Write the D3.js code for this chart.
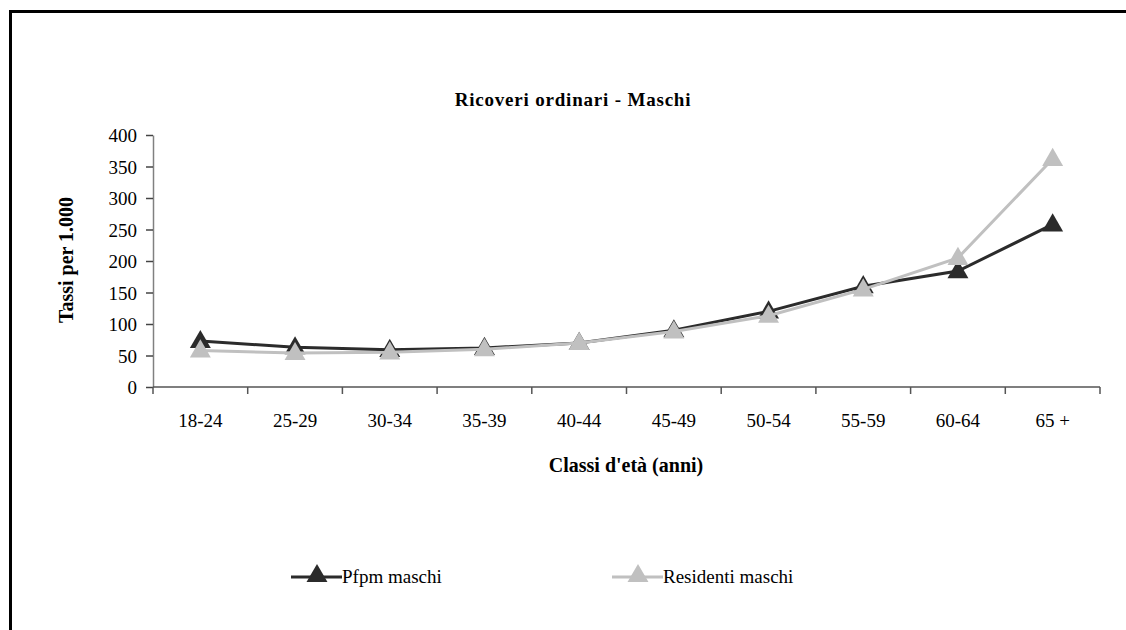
<!DOCTYPE html>
<html>
<head>
<meta charset="utf-8">
<script src="https://cdn.jsdelivr.net/npm/d3@7"></script>
<style>
  body { margin: 0; background: #fff; }
  svg text { font-family: "Liberation Serif", "Times New Roman", Times, "DejaVu Serif", serif; fill: #000; }
</style>
</head>
<body>
<svg width="1126" height="630"></svg>
<script>
var categories = ["18-24", "25-29", "30-34", "35-39", "40-44", "45-49", "50-54", "55-59", "60-64", "65 +"];
var pfpm = [73, 63, 59, 62, 70, 90, 120, 160, 184, 258];
var residenti = [58, 54, 55, 60, 70, 88, 113, 155, 205, 362];
var yTicks = [0, 50, 100, 150, 200, 250, 300, 350, 400];

var series = [
  { name: "Pfpm maschi", values: pfpm, color: "#2b2b2b" },
  { name: "Residenti maschi", values: residenti, color: "#c0c0c0" }
];

var serif = "'Liberation Serif', 'Times New Roman', Times, 'DejaVu Serif', serif";

var svg = d3.select("svg");

// frame: only top and left edges show
svg.append("path")
    .attr("d", "M10.5,630 L10.5,11.5 L1126,11.5")
    .attr("fill", "none")
    .attr("stroke", "#000")
    .attr("stroke-width", 3);

var x = d3.scaleBand().domain(categories).range([153, 1100]);
var y = d3.scaleLinear().domain([0, 400]).range([387, 135]);

// y axis
var yAxis = svg.append("g")
    .attr("transform", "translate(153,0)")
    .call(d3.axisLeft(y).tickValues(yTicks).tickSize(7).tickSizeOuter(0).tickPadding(9));
yAxis.attr("font-family", serif);
yAxis.select(".domain").attr("stroke", "#808080").attr("stroke-width", 1.5);
yAxis.selectAll(".tick line").attr("stroke", "#444").attr("stroke-width", 1.5);
yAxis.selectAll("text").style("font-size", "19px").attr("dy", "0.35em");

// x axis, ticks between categories
var xAxisG = svg.append("g");
xAxisG.append("line")
    .attr("x1", 153).attr("x2", 1100)
    .attr("y1", y(0)).attr("y2", y(0))
    .attr("stroke", "#555").attr("stroke-width", 1.5);
xAxisG.selectAll(".xtick")
    .data(categories.concat([null]))
    .enter().append("line")
    .attr("x1", function(d, i) { return x.range()[0] + i * x.step(); })
    .attr("x2", function(d, i) { return x.range()[0] + i * x.step(); })
    .attr("y1", y(0)).attr("y2", y(0) + 7)
    .attr("stroke", "#555").attr("stroke-width", 1.5);
xAxisG.selectAll(".xlabel")
    .data(categories)
    .enter().append("text")
    .attr("x", function(d) { return x(d) + x.bandwidth() / 2; })
    .attr("y", 427)
    .attr("text-anchor", "middle")
    .attr("font-family", serif)
    .style("font-size", "19px")
    .text(function(d) { return d; });

// titles
svg.append("text")
    .attr("x", 573).attr("y", 106)
    .attr("text-anchor", "middle")
    .attr("font-family", serif)
    .style("font-size", "19px").style("font-weight", "bold").style("letter-spacing", "0.8px")
    .text("Ricoveri ordinari - Maschi");

svg.append("text")
    .attr("x", 626).attr("y", 472)
    .attr("text-anchor", "middle")
    .attr("font-family", serif)
    .style("font-size", "20px").style("font-weight", "bold")
    .text("Classi d'età (anni)");

svg.append("text")
    .attr("transform", "translate(73,260) rotate(-90)")
    .attr("text-anchor", "middle")
    .attr("font-family", serif)
    .style("font-size", "20px").style("font-weight", "bold")
    .text("Tassi per 1.000");

// lines and markers
var line = d3.line()
    .x(function(d, i) { return x(categories[i]) + x.bandwidth() / 2; })
    .y(function(d) { return y(d); });

var tri = d3.symbol().type(d3.symbolTriangle).size(190);

series.forEach(function(s) {
  svg.append("path")
      .datum(s.values)
      .attr("d", line)
      .attr("fill", "none")
      .attr("stroke", s.color)
      .attr("stroke-width", 3);
  svg.selectAll(null)
      .data(s.values)
      .enter().append("path")
      .attr("d", tri)
      .attr("transform", function(d, i) {
        return "translate(" + (x(categories[i]) + x.bandwidth() / 2) + "," + (y(d) + 1) + ")";
      })
      .attr("fill", s.color);
});

// legend
var legendX = [291, 612];
var legend = svg.selectAll(".legend")
    .data(series)
    .enter().append("g")
    .attr("transform", function(d, i) { return "translate(" + legendX[i] + ",577)"; });
legend.append("line")
    .attr("x1", 0).attr("x2", 51)
    .attr("y1", 0).attr("y2", 0)
    .attr("stroke", function(d) { return d.color; })
    .attr("stroke-width", 3);
legend.append("path")
    .attr("d", tri)
    .attr("transform", "translate(26,-1)")
    .attr("fill", function(d) { return d.color; });
legend.append("text")
    .attr("x", 51).attr("y", 6)
    .attr("font-family", serif)
    .style("font-size", "19px")
    .text(function(d) { return d.name; });
</script>
</body>
</html>
